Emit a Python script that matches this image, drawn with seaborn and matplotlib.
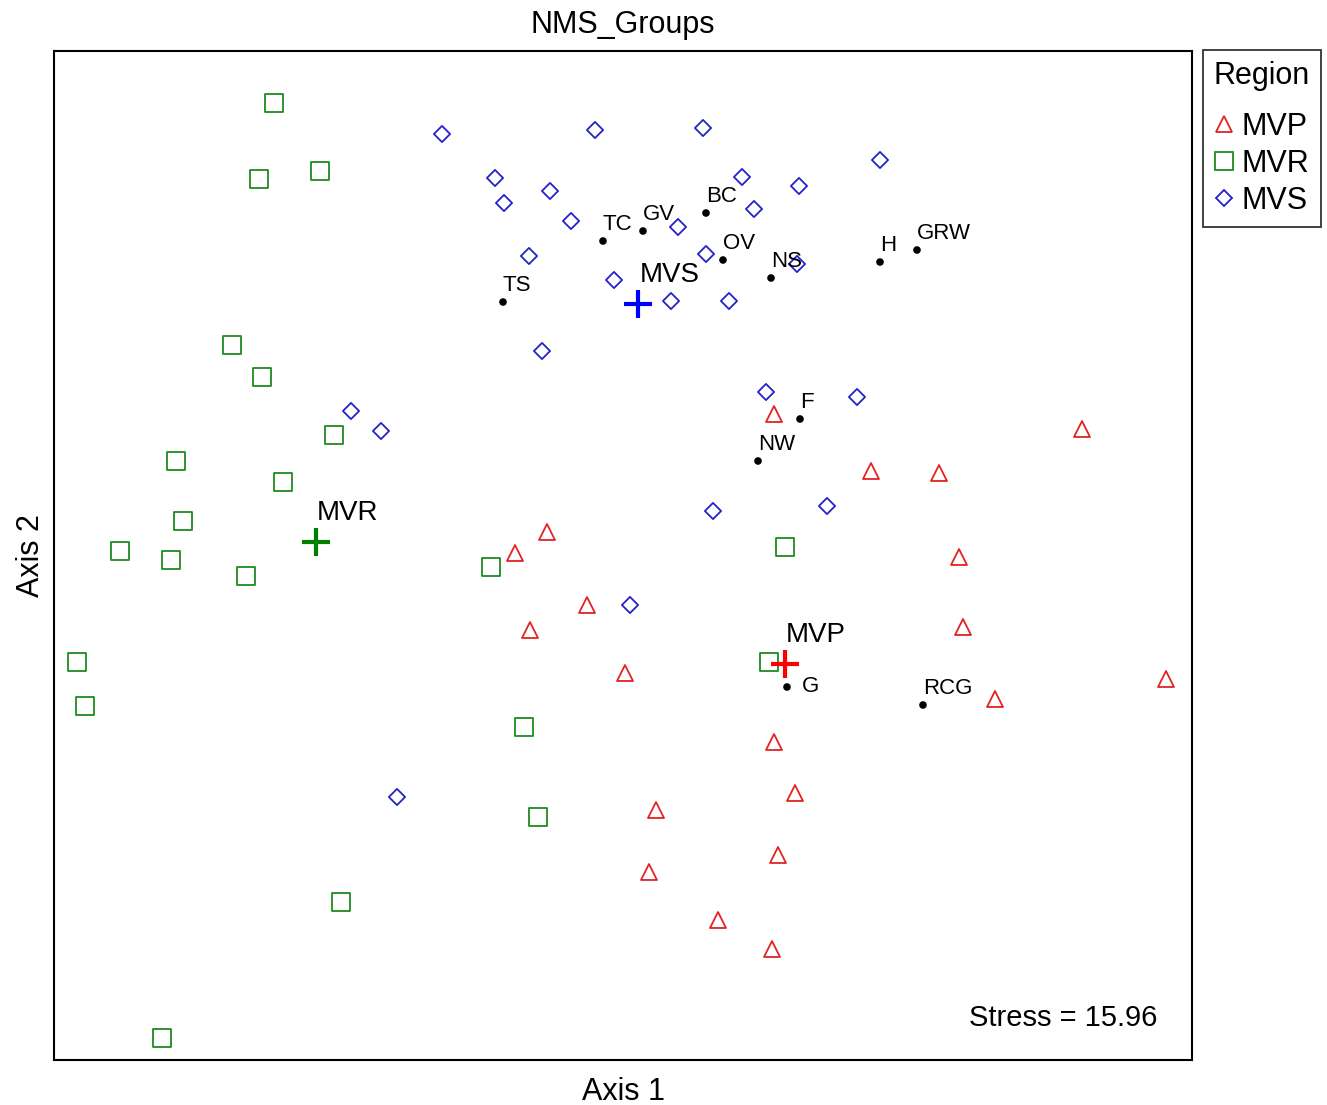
import pandas as pd
import matplotlib
matplotlib.use("Agg")
import matplotlib.pyplot as plt
from matplotlib.lines import Line2D
import seaborn as sns

sns.set_theme(style="white")
plt.rcParams["font.family"] = ["Liberation Sans", "DejaVu Sans"]
plt.rcParams["text.color"] = "black"
plt.rcParams["axes.labelcolor"] = "black"

# NMS ordination scores (Axis 1, Axis 2) per sample, grouped by region
mvp_x = [720, 1028, 817, 885, 493, 461, 905, 533, 476, 909, 571, 1112, 941, 720, 741, 602, 724, 595, 664, 718]
mvp_y = [646, 631, 589, 587, 528, 507, 503, 455, 430, 433, 387, 381, 361, 318, 267, 250, 205, 188, 140, 111]

mvr_x = [220, 205, 266, 178, 208, 280, 122, 229, 129, 66, 117, 192, 437, 731, 23, 31, 470, 484, 287, 108, 715]
mvr_y = [957, 881, 889, 715, 683, 625, 599, 578, 539, 509, 500, 484, 493, 513, 398, 354, 333, 243, 158, 22, 398]

mvs_x = [388, 541, 649, 441, 496, 688, 745, 450, 700, 517, 624, 475, 652, 743, 560, 617, 675, 488, 826, 712,
         803, 297, 327, 659, 773, 576, 343]
mvs_y = [926, 930, 932, 882, 869, 883, 874, 857, 851, 839, 833, 804, 806, 796, 780, 759, 759, 709, 900, 668,
         663, 649, 629, 549, 554, 455, 263]

# Named sites overlaid on the ordination
site_names = ["TS", "TC", "GV", "BC", "OV", "NS", "H", "GRW", "F", "NW", "G", "RCG"]
site_x = [449, 549, 589, 652, 669, 717, 826, 863, 746, 704, 733, 869]
site_y = [758, 819, 829, 847, 800, 782, 798, 810, 641, 599, 373, 355]

regions = ["MVP", "MVR", "MVS"]
stress = 15.96

df = pd.concat([
    pd.DataFrame({"Axis1": mvp_x, "Axis2": mvp_y, "Region": "MVP"}),
    pd.DataFrame({"Axis1": mvr_x, "Axis2": mvr_y, "Region": "MVR"}),
    pd.DataFrame({"Axis1": mvs_x, "Axis2": mvs_y, "Region": "MVS"}),
], ignore_index=True)
sites = pd.DataFrame({"Axis1": site_x, "Axis2": site_y, "Site": site_names})
centroids = df.groupby("Region")[["Axis1", "Axis2"]].mean()

marker_style = {
    "MVP": dict(marker="^", s=132, ms=11.5, color="#E32222"),
    "MVR": dict(marker="s", s=158, ms=12.5, color="#1F8A1F"),
    "MVS": dict(marker="D", s=68, ms=8.2, color="#2222CC"),
}
centroid_color = {"MVP": "#FF0000", "MVR": "#008000", "MVS": "#0000FF"}

fig = plt.figure(figsize=(13.27, 11.05), dpi=100)
ax = fig.add_axes([54 / 1327, 45 / 1105, 1138 / 1327, 1009 / 1105])

for r in regions:
    st = marker_style[r]
    sns.scatterplot(data=df[df["Region"] == r], x="Axis1", y="Axis2", ax=ax,
                    marker=st["marker"], s=st["s"], color=st["color"],
                    facecolor="none", edgecolor=st["color"], linewidth=1.3,
                    legend=False, zorder=3)

sns.scatterplot(data=sites, x="Axis1", y="Axis2", ax=ax, color="black", s=30,
                edgecolor="none", legend=False, zorder=4)

for _, row in sites.iterrows():
    if row["Site"] == "G":
        ax.annotate(row["Site"], (row["Axis1"], row["Axis2"]), xytext=(11, 0),
                    textcoords="offset points", ha="left", va="center", fontsize=16)
    else:
        ax.annotate(row["Site"], (row["Axis1"], row["Axis2"]), xytext=(0, 8),
                    textcoords="offset points", ha="left", va="baseline", fontsize=16)

for r in regions:
    cx, cy = centroids.loc[r, "Axis1"], centroids.loc[r, "Axis2"]
    sns.scatterplot(x=[cx], y=[cy], ax=ax, marker="+", s=400, color=centroid_color[r],
                    linewidth=3, legend=False, zorder=5)
    ax.annotate(r, (cx, cy), xytext=(1, 16), textcoords="offset points",
                ha="left", va="baseline", fontsize=20)

ax.set_xlim(0, 1138)
ax.set_ylim(0, 1009)
ax.set_xticks([])
ax.set_yticks([])
for sp in ax.spines.values():
    sp.set_visible(True)
    sp.set_color("black")
    sp.set_linewidth(1.5)

ax.set_title("NMS_Groups", fontsize=22, pad=13)
ax.set_xlabel("Axis 1", fontsize=22, labelpad=12)
ax.set_ylabel("Axis 2", fontsize=22, labelpad=6)

ax.text(0.970, 0.0416, f"Stress = {stress:.2f}", transform=ax.transAxes,
        ha="right", va="center", fontsize=21)

handles = [
    Line2D([], [], linestyle="none", marker=marker_style[r]["marker"], markersize=marker_style[r]["ms"],
           markerfacecolor="none", markeredgecolor=marker_style[r]["color"], markeredgewidth=1.3, label=r)
    for r in regions
]
leg = fig.legend(handles=handles, title="Region", loc="upper left",
                 bbox_to_anchor=(1203 / 1327, 1 - 50 / 1105), fontsize=22, title_fontsize=22,
                 frameon=True, fancybox=False, edgecolor="black", handlelength=0.6,
                 handletextpad=0.3, labelspacing=0.23, borderpad=0.36, borderaxespad=0)
leg._legend_box.sep = 15
leg.get_frame().set_linewidth(1.3)

fig.savefig("out.png", dpi=100, facecolor="white")
